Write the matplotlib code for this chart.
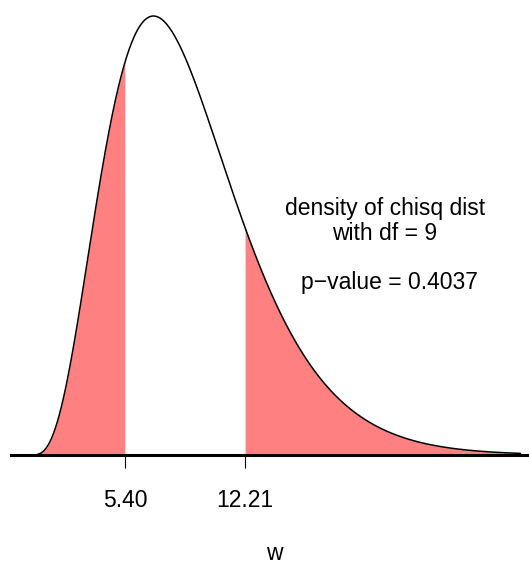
import math
import numpy as np
import matplotlib
matplotlib.use("Agg")
import matplotlib.pyplot as plt

plt.rcParams['font.family'] = ['Liberation Sans', 'DejaVu Sans']

df = 9
lo_cut = 5.40
hi_cut = 12.21
p_value = 0.4037
x_end = 27.88  # about the 0.999 quantile

def dchisq(x, k):
    x = np.asarray(x, dtype=float)
    out = np.zeros_like(x)
    pos = x > 0
    out[pos] = x[pos]**(k/2 - 1) * np.exp(-x[pos]/2) / (2**(k/2) * math.gamma(k/2))
    return out

w = np.linspace(0, x_end, 800)
dens = dchisq(w, df)
fmax = dchisq(np.array([df - 2.0]), df)[0]

fs = 16.5

fig = plt.figure(figsize=(5.29, 5.61), dpi=100)
# baseline sits 455 px from the top, axis starts at 11 px
ax = fig.add_axes([11/529, (561-455)/561, 1 - 11/529, 455/561])
ax.set_xlim((11 - 30.4)/17.58, (529 - 30.4)/17.58)
ax.set_ylim(0, fmax*455/439)

left = w <= lo_cut
right = w >= hi_cut
ax.fill_between(w[left], 0, dens[left], color='#FF8080', linewidth=0)
ax.fill_between(w[right], 0, dens[right], color='#FF8080', linewidth=0)
ax.plot(w, dens, color='black', linewidth=1.1, solid_capstyle='round')

for s in ['top', 'left', 'right']:
    ax.spines[s].set_visible(False)
ax.spines['bottom'].set_linewidth(2.2)
ax.set_yticks([])
ax.set_xticks([lo_cut, hi_cut])
ax.set_xticklabels(['%.2f' % lo_cut, '%.2f' % hi_cut], fontsize=fs)
ax.tick_params(axis='x', direction='out', length=9.4, width=0.8, pad=15)
ax.set_xlabel('w', fontsize=fs)
ax.xaxis.set_label_coords((274 - 11)/518, -(559.5 - 455)/455, transform=ax.transAxes)
ax.xaxis.label.set_va('baseline')

def px(xp, yp):
    return (xp - 30.4)/17.58, (455 - yp)/439*fmax

ax.text(*px(385, 221), 'density of chisq dist\nwith df = %d' % df,
        ha='center', va='center', fontsize=fs, linespacing=1.15)
ax.text(*px(389, 283), 'p\u2212value = %.4f' % p_value,
        ha='center', va='center', fontsize=fs)

fig.savefig('out.png', dpi=100)
